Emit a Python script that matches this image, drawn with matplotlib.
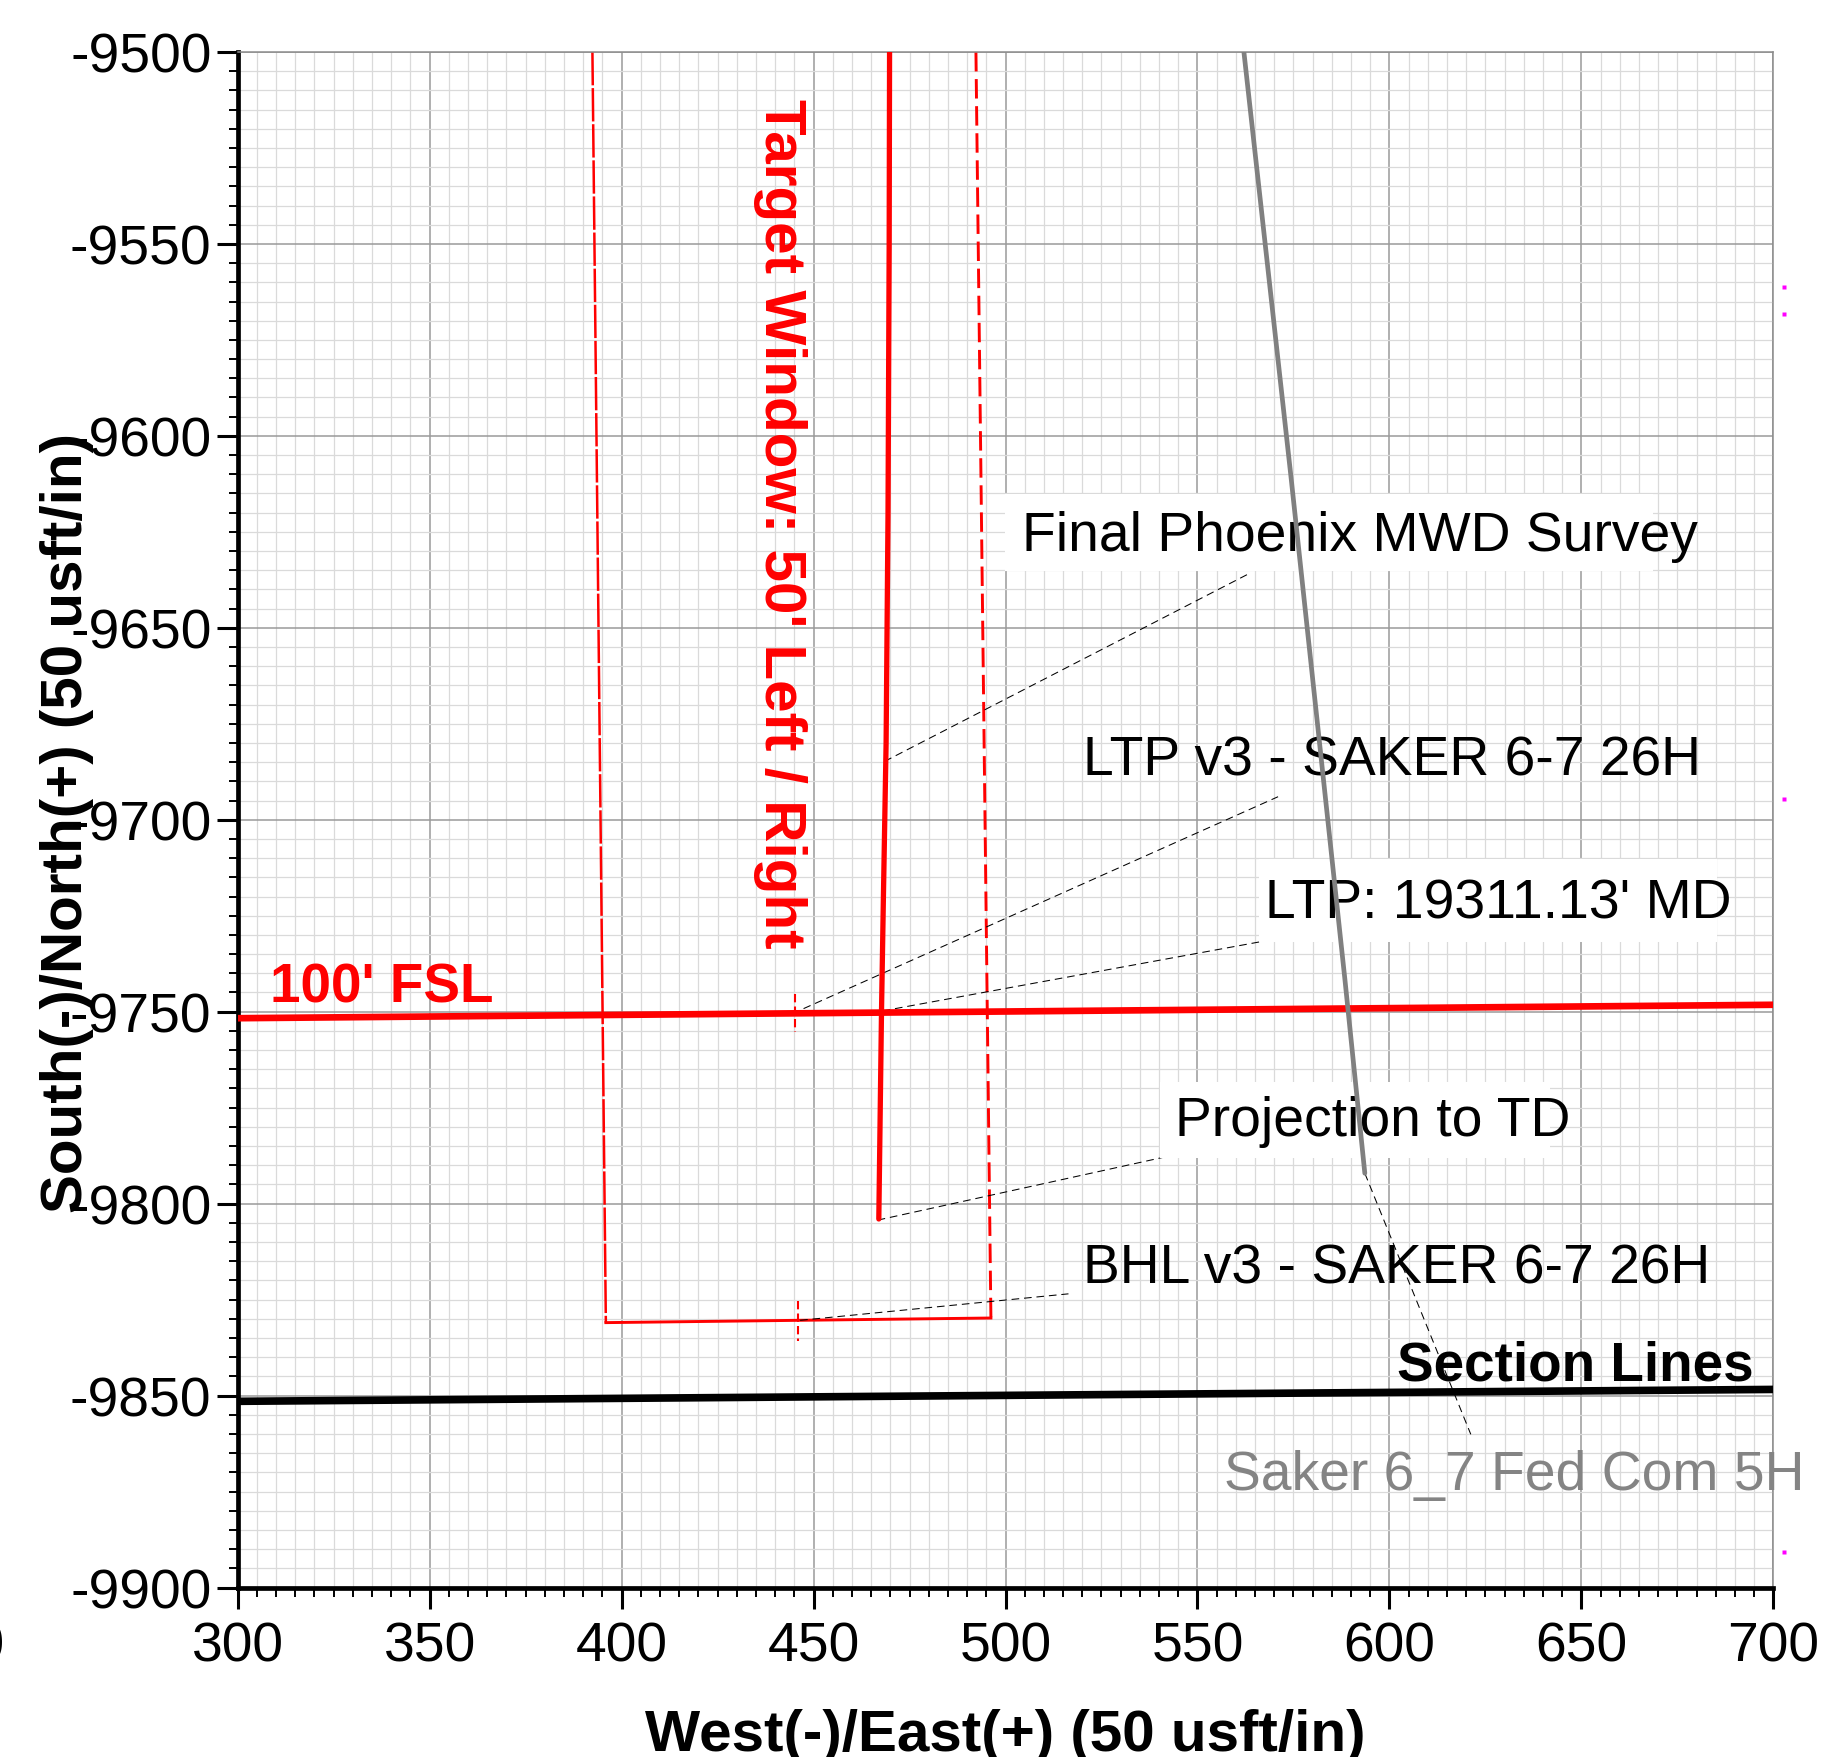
import matplotlib
matplotlib.use("Agg")
import matplotlib.pyplot as plt
from matplotlib.patches import Rectangle
import numpy as np

plt.rcParams['font.family'] = ['Liberation Sans', 'DejaVu Sans']
plt.rcParams['lines.scale_dashes'] = False
plt.rcParams['axes.unicode_minus'] = False

# ---------------- data (East, North in usft) ----------------
# Final Phoenix MWD survey + projection to TD (subject well)
survey_e = [469.8, 469.7, 469.4, 468.9, 468.2, 467.7, 467.0]
survey_n = [-9500, -9550, -9620, -9680, -9720, -9750, -9804]

# Offset well Saker 6_7 Fed Com 5H
saker_e = [562.1, 574.4, 588.4, 593.6]
saker_n = [-9500, -9611, -9741.5, -9792.1]

# 100' FSL hard line
fsl_e = [300, 700]
fsl_n = [-9751.7, -9748.2]

# Section line
section_e = [300, 700]
section_n = [-9851.5, -9848.4]

# Target window (50' left / right)
win_left_e = [392.4, 395.9]
win_left_n = [-9500, -9831.0]
win_right_e = [492.3, 496.2]
win_right_n = [-9500, -9829.8]
win_bottom_e = [395.9, 496.2]
win_bottom_n = [-9831.0, -9829.8]

# Target centre markers (LTP and BHL)
ltp_mark_e = [445.2, 445.2]
ltp_mark_n = [-9745.4, -9755.3]
bhl_mark_e = [446.0, 446.0]
bhl_mark_n = [-9825.3, -9835.7]

# Annotation labels: text, leader start (e, n), leader end (e, n), text anchor (e, n)
labels = ["Final Phoenix MWD Survey", "LTP v3 - SAKER 6-7 26H", "LTP: 19311.13' MD",
          "Projection to TD", "BHL v3 - SAKER 6-7 26H"]
leader_start = [(468.5, -9684.8), (447.4, -9749.2), (468.0, -9749.8),
                (466.7, -9804.3), (446.5, -9830.4)]
leader_end = [(563.6, -9635.8), (571.0, -9694.0), (568.5, -9731.4),
              (543.1, -9787.5), (516.4, -9823.5)]
label_pos = [(504.3, -9629.6), (520.3, -9688.3), (567.7, -9725.4),
             (544.2, -9782.1), (520.3, -9820.5)]
# white label boxes (e0, n0, e1, n1)
label_boxes = [(499.9, -9615.1, 668.7, -9635.2), None, (566.0, -9710.2, 685.3, -9731.9),
               (540.2, -9768.3, 641.8, -9788.1), None]

saker_label = "Saker 6_7 Fed Com 5H"
saker_leader_start = (593.6, -9792.1)
saker_leader_end = (621.2, -9860.1)
saker_label_pos = (556.8, -9874.3)

# magenta marks just outside the right edge
mag_e = [702.8, 702.8, 702.8, 702.8]
mag_n = [-9561.2, -9568.2, -9694.6, -9890.7]

x_ticks = [300, 350, 400, 450, 500, 550, 600, 650, 700]
y_ticks = [-9500, -9550, -9600, -9650, -9700, -9750, -9800, -9850, -9900]

# ---------------- figure ----------------
W, H = 1845, 1758
fig = plt.figure(figsize=(W / 100, H / 100), dpi=100)
ax = fig.add_axes([237.7 / W, 1 - 1588.5 / H, 1535.6 / W, 1535.5 / H])
ax.set_xlim(300, 700)
ax.set_ylim(-9900, -9500)

ax.set_xticks(x_ticks)
ax.set_xticklabels([str(v) for v in x_ticks])
ax.set_yticks(y_ticks)
ax.set_yticklabels([str(v) for v in y_ticks])
ax.set_xticks(np.arange(300, 701, 5), minor=True)
ax.set_yticks(np.arange(-9900, -9499, 5), minor=True)
ax.set_axisbelow(True)
ax.grid(which='minor', color='#dadada', lw=0.9)
ax.grid(which='major', color='#9a9a9a', lw=1.1)

ax.tick_params(which='major', direction='out', length=14.9, width=2.2,
               labelsize=39.8, colors='black', top=False, right=False)
ax.tick_params(which='minor', direction='out', length=6.8, width=1.4,
               top=False, right=False)
ax.tick_params(axis='y', which='major', pad=4)
ax.tick_params(axis='x', which='major', pad=9)

for s in ['left', 'bottom']:
    ax.spines[s].set_linewidth(3.4)
    ax.spines[s].set_color('black')
for s in ['top', 'right']:
    ax.spines[s].set_linewidth(1.1)
    ax.spines[s].set_color('#8c8c8c')

# target window
ax.plot(win_left_e, win_left_n, color='red', lw=1.8, dashes=(24, 2), zorder=2)
ax.plot(win_right_e, win_right_n, color='red', lw=2.1, dashes=(14, 5.5), zorder=2)
ax.plot(win_bottom_e, win_bottom_n, color='red', lw=2.1, zorder=2)
ax.plot(ltp_mark_e, ltp_mark_n, color='red', lw=1.5, dashes=(6, 3), zorder=2)
ax.plot(bhl_mark_e, bhl_mark_n, color='red', lw=1.5, dashes=(6, 3), zorder=2)

# hard lines
ax.plot(fsl_e, fsl_n, color='red', lw=4.8, zorder=3)
ax.plot(section_e, section_n, color='black', lw=5.5, zorder=3)

# leaders
for (s, e) in zip(leader_start, leader_end):
    ax.plot([s[0], e[0]], [s[1], e[1]], color='black', lw=0.75, dashes=(5.5, 3.5), zorder=2.5)
ax.plot([saker_leader_start[0], saker_leader_end[0]], [saker_leader_start[1], saker_leader_end[1]],
        color='black', lw=0.75, dashes=(5.5, 3.5), zorder=2.5)

# label boxes and labels
for txt, pos, box in zip(labels, label_pos, label_boxes):
    if box is not None:
        ax.add_patch(Rectangle((box[0], box[3]), box[2] - box[0], box[1] - box[3],
                               facecolor='white', edgecolor='none', zorder=3.5))
    ax.text(pos[0], pos[1], txt, fontsize=39.8, ha='left', va='baseline', zorder=4)

ax.text(saker_label_pos[0], saker_label_pos[1], saker_label, fontsize=39.8, color='#848484',
        ha='left', va='baseline', zorder=4, clip_on=False)

ax.text(694.9, -9845.7, "Section Lines", fontsize=39.5, fontweight='bold', color='black',
        ha='right', va='baseline', zorder=4)
ax.text(308.4, -9747.3, "100' FSL", fontsize=39.5, fontweight='bold', color='red',
        ha='left', va='baseline', zorder=4)
ax.text(437.4, -9622.7, "Target Window: 50' Left / Right", fontsize=42, fontweight='bold',
        color='red', rotation=-90, rotation_mode='anchor', ha='center', va='baseline', zorder=4)

# wells
ax.plot(survey_e, survey_n, color='red', lw=3.8, zorder=5, solid_capstyle='round')
ax.plot(saker_e, saker_n, color='#808080', lw=3.4, zorder=6, solid_capstyle='round')

ax.plot(mag_e, mag_n, ls='none', marker='s', ms=2.2, color='magenta', mec='none', clip_on=False)

# axis titles
fig.text(1005.5 / W, 1 - 1751 / H, "West(-)/East(+) (50 usft/in)", fontsize=42,
         fontweight='bold', ha='center', va='baseline')
fig.text(82 / W, 1 - 822.8 / H, "South(-)/North(+) (50 usft/in)", fontsize=42,
         fontweight='bold', rotation=90, rotation_mode='anchor', ha='center', va='baseline')

# clipped tick label at left edge
fig.text(4 / W, 1 - 1661.7 / H, "250", fontsize=39.8, ha='right', va='baseline')

fig.savefig("out.png", dpi=100)
